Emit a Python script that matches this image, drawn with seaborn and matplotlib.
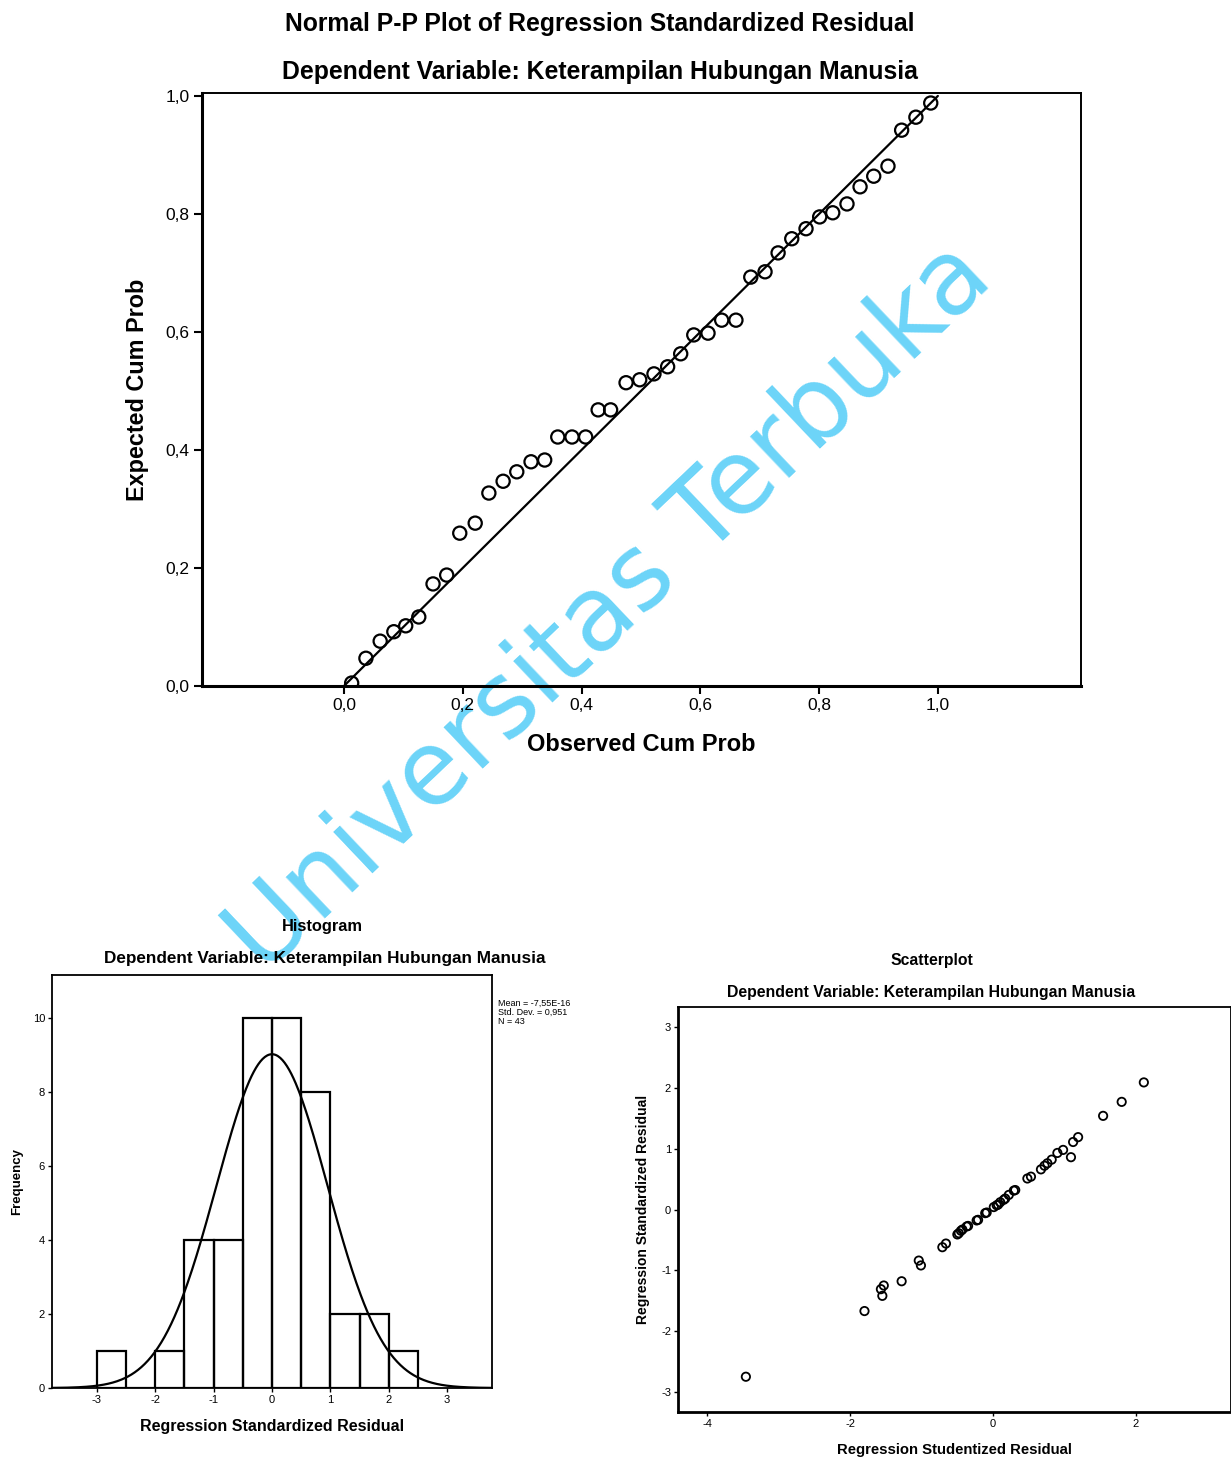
import numpy as np
import pandas as pd
import matplotlib
matplotlib.use("Agg")
import matplotlib.pyplot as plt
import seaborn as sns

# ---------------- data ----------------
pp_observed = [0.013, 0.037, 0.061, 0.084, 0.104, 0.126, 0.150, 0.173, 0.195, 0.221,
               0.244, 0.268, 0.291, 0.315, 0.338, 0.360, 0.384, 0.407, 0.428, 0.449,
               0.475, 0.498, 0.522, 0.545, 0.567, 0.589, 0.613, 0.636, 0.660, 0.685,
               0.709, 0.731, 0.754, 0.778, 0.801, 0.823, 0.847, 0.869, 0.892, 0.916,
               0.939, 0.963, 0.988]
pp_expected = [0.005, 0.047, 0.076, 0.092, 0.102, 0.117, 0.173, 0.188, 0.259, 0.276,
               0.327, 0.347, 0.363, 0.380, 0.383, 0.422, 0.422, 0.422, 0.468, 0.468,
               0.514, 0.519, 0.529, 0.541, 0.563, 0.595, 0.598, 0.620, 0.620, 0.693,
               0.702, 0.734, 0.758, 0.775, 0.795, 0.802, 0.817, 0.846, 0.864, 0.881,
               0.942, 0.964, 0.988]
pp_diag = [0.0, 1.0]
pp_ticks = [0.0, 0.2, 0.4, 0.6, 0.8, 1.0]
pp_ticklabels = ["0,0", "0,2", "0,4", "0,6", "0,8", "1,0"]

hist_edges = [-3.0, -2.5, -2.0, -1.5, -1.0, -0.5, 0.0, 0.5, 1.0, 1.5, 2.0, 2.5]
hist_counts = [1, 0, 1, 4, 4, 10, 10, 8, 2, 2, 1]
hist_mean = -7.55e-16
hist_sd = 0.951
hist_n = 43
hist_xticks = [-3, -2, -1, 0, 1, 2, 3]
hist_yticks = [0, 2, 4, 6, 8, 10]

sc_studentized = [-3.46, -1.80, -1.57, -1.55, -1.53, -1.28, -1.04, -1.01, -0.71, -0.66,
                  -0.50, -0.48, -0.45, -0.43, -0.37, -0.35, -0.23, -0.21, -0.11, -0.09,
                  0.01, 0.05, 0.07, 0.10, 0.15, 0.17, 0.22, 0.29, 0.31, 0.48, 0.53,
                  0.67, 0.72, 0.76, 0.82, 0.90, 0.98, 1.09, 1.12, 1.19, 1.54, 1.80, 2.11]
sc_standardized = [-2.75, -1.67, -1.31, -1.42, -1.25, -1.18, -0.84, -0.92, -0.62, -0.56,
                   -0.41, -0.39, -0.35, -0.33, -0.28, -0.27, -0.18, -0.17, -0.06, -0.05,
                   0.04, 0.07, 0.08, 0.12, 0.16, 0.18, 0.24, 0.31, 0.32, 0.51, 0.54,
                   0.66, 0.72, 0.76, 0.82, 0.93, 0.98, 0.86, 1.11, 1.19, 1.54, 1.77, 2.09]
sc_xticks = [-4, -2, 0, 2]
sc_yticks = [-3, -2, -1, 0, 1, 2, 3]

subtitle = "Dependent Variable: Keterampilan Hubungan Manusia"

# ---------------- style ----------------
sns.set_style("white")
plt.rcParams["font.family"] = ["Liberation Sans", "DejaVu Sans"]
plt.rcParams["axes.edgecolor"] = "black"
plt.rcParams["text.color"] = "black"
plt.rcParams["axes.labelcolor"] = "black"
plt.rcParams["xtick.color"] = "black"
plt.rcParams["ytick.color"] = "black"
plt.rcParams["axes.unicode_minus"] = False

W, H = 1231, 1460
fig = plt.figure(figsize=(W / 100, H / 100), dpi=100)
fig.patch.set_facecolor("white")

def fx(px):
    return px / W

def fy(py):
    return 1 - py / H

# watermark on a background layer (black drawings go over it)
bg = fig.add_axes([0, 0, 1, 1], zorder=0)
bg.set_axis_off()
bg.text(fx(610), fy(608), "Universitas Terbuka", transform=bg.transAxes,
        rotation=43.5, ha="center", va="center", color="#6cd4f8",
        fontsize=74, family="DejaVu Sans", rotation_mode="anchor")

# ---------------- P-P plot ----------------
ax1 = fig.add_axes([fx(202), fy(686), fx(1081) - fx(202), fy(93) - fy(686)], zorder=1)
ax1.patch.set_alpha(0)
pp_df = pd.DataFrame({"observed": pp_observed, "expected": pp_expected})
sns.lineplot(x=pp_diag, y=pp_diag, ax=ax1, color="black", linewidth=1.6)
sns.scatterplot(data=pp_df, x="observed", y="expected", ax=ax1, marker="o",
                s=90, facecolors="none", edgecolor="black", linewidth=1.6)
ax1.set_xlim(-0.239, 1.241)
ax1.set_ylim(0.0, 1.005)
ax1.set_xticks(pp_ticks)
ax1.set_xticklabels(pp_ticklabels)
ax1.set_yticks(pp_ticks)
ax1.set_yticklabels(pp_ticklabels)
ax1.tick_params(direction="out", length=6, width=1.5, labelsize=12.5,
                bottom=True, left=True, pad=3)
for s in ax1.spines.values():
    s.set_linewidth(1.4)
ax1.spines["left"].set_linewidth(2.2)
ax1.spines["bottom"].set_linewidth(2.2)
ax1.set_xlabel("Observed Cum Prob", fontsize=17, fontweight="bold", labelpad=14)
ax1.set_ylabel("Expected Cum Prob", fontsize=16.8, fontweight="bold", labelpad=12)
fig.text(fx(600), fy(24), "Normal P-P Plot of Regression Standardized Residual",
         ha="center", va="center", fontsize=17.8, fontweight="bold")
fig.text(fx(600), fy(72), subtitle, ha="center", va="center",
         fontsize=17.8, fontweight="bold")

# ---------------- Histogram ----------------
ax2 = fig.add_axes([fx(52), fy(1388), fx(492) - fx(52), fy(975) - fy(1388)], zorder=1)
ax2.patch.set_alpha(0)
centers = [(a + b) / 2 for a, b in zip(hist_edges[:-1], hist_edges[1:])]
sns.histplot(x=centers, weights=hist_counts, bins=hist_edges, ax=ax2,
             fill=False, color="black", edgecolor="black", linewidth=1.6, element="bars")
xs = np.linspace(-3.77, 3.77, 400)
binw = hist_edges[1] - hist_edges[0]
curve = hist_n * binw / (hist_sd * np.sqrt(2 * np.pi)) * np.exp(-0.5 * ((xs - hist_mean) / hist_sd) ** 2)
sns.lineplot(x=xs, y=curve, ax=ax2, color="black", linewidth=1.6)
ax2.set_xlim(-3.77, 3.77)
ax2.set_ylim(0, 11.16)
ax2.set_xticks(hist_xticks)
ax2.set_yticks(hist_yticks)
ax2.tick_params(direction="out", length=3, width=1, labelsize=8, bottom=True, left=True, pad=2)
for s in ax2.spines.values():
    s.set_linewidth(1.3)
ax2.set_xlabel("Regression Standardized Residual", fontsize=11.5, fontweight="bold", labelpad=10)
ax2.set_ylabel("Frequency", fontsize=9.5, fontweight="bold", labelpad=7)
fig.text(fx(322), fy(926), "Histogram", ha="center", va="center",
         fontsize=11.8, fontweight="bold")
fig.text(fx(325), fy(959), subtitle, ha="center", va="center",
         fontsize=12.3, fontweight="bold")
fig.text(fx(498), fy(1012),
         "Mean = -7,55E-16\nStd. Dev. = 0,951\nN = 43",
         ha="left", va="center", fontsize=6.5, linespacing=1.0)

# ---------------- Scatterplot ----------------
ax3 = fig.add_axes([fx(678), fy(1412), 1.0 - fx(678), fy(1007) - fy(1412)], zorder=1)
ax3.patch.set_alpha(0)
sc_df = pd.DataFrame({"stud": sc_studentized, "std": sc_standardized})
sns.scatterplot(data=sc_df, x="stud", y="std", ax=ax3, marker="o", s=36,
                facecolors="none", edgecolor="black", linewidth=1.3)
ax3.set_xlim(-4.41, 3.33)
ax3.set_ylim(-3.33, 3.33)
ax3.set_xticks(sc_xticks)
ax3.set_yticks(sc_yticks)
ax3.tick_params(direction="out", length=3, width=1, labelsize=8, bottom=True, left=True, pad=2)
for s in ax3.spines.values():
    s.set_linewidth(1.3)
ax3.spines["left"].set_linewidth(2.0)
ax3.spines["bottom"].set_linewidth(2.0)
ax3.set_xlabel("Regression Studentized Residual", fontsize=10.7, fontweight="bold", labelpad=10)
ax3.set_ylabel("Regression Standardized Residual", fontsize=10, fontweight="bold", labelpad=8)
fig.text(fx(932), fy(960), "Scatterplot", ha="center", va="center",
         fontsize=11.3, fontweight="bold")
fig.text(fx(931), fy(993), subtitle, ha="center", va="center",
         fontsize=11.4, fontweight="bold")

fig.savefig("out.png", dpi=100, facecolor="white")
